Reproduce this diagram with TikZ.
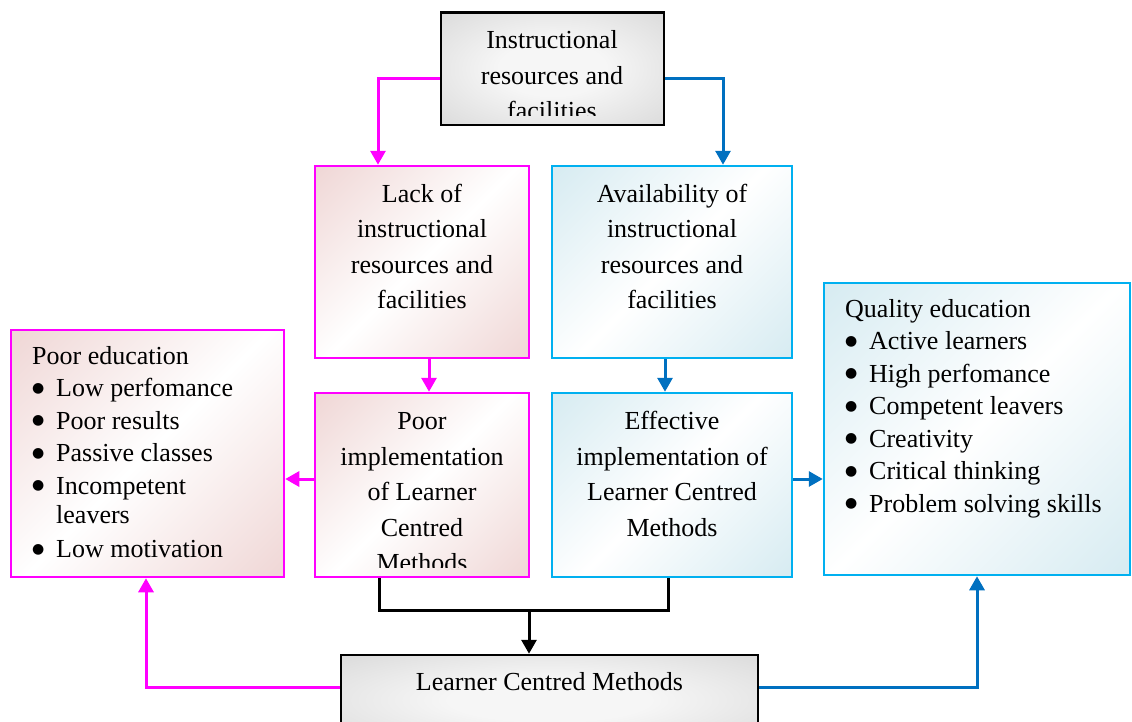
\documentclass[tikz,border=0pt]{standalone}
\usepackage{fontspec}
\setmainfont{Liberation Serif}
\newfontfamily\symf{DejaVu Sans}
\usetikzlibrary{arrows.meta,calc}
\definecolor{mag}{HTML}{FF00FF}
\definecolor{cyanb}{HTML}{00B0F0}
\definecolor{blu}{HTML}{0070C0}
\definecolor{pinkf}{HTML}{F0D8D7}
\definecolor{bluef}{HTML}{D8ECF2}
\definecolor{grayf}{HTML}{D6D6D6}
\definecolor{grayc}{HTML}{F6F6F6}
\pgfdeclareradialshading{grayrad}{\pgfpoint{0bp}{0bp}}{color(0bp)=(grayc); color(12bp)=(grayc); color(40bp)=(grayf); color(100bp)=(grayf)}
\pgfdeclareverticalshading{pinkdiag}{100bp}{color(0bp)=(pinkf); color(16bp)=(pinkf); color(50bp)=(white); color(84bp)=(pinkf); color(100bp)=(pinkf)}
\pgfdeclareverticalshading{bluediag}{100bp}{color(0bp)=(bluef); color(16bp)=(bluef); color(50bp)=(white); color(84bp)=(bluef); color(100bp)=(bluef)}
\newcommand{\bul}{\makebox[24pt][l]{\raisebox{4.5pt}{\symf\fontsize{14}{14}\selectfont ●}}}
\begin{document}
\begin{tikzpicture}[x=1pt,y=-1pt,
 pinkbox/.style={draw=mag, line width=2.5pt, rectangle, shading=pinkdiag, shading angle=45},
 bluebox/.style={draw=cyanb, line width=2.5pt, rectangle, shading=bluediag, shading angle=45},
 graybox/.style={draw=black, line width=2.5pt, rectangle, shading=grayrad},
 txt/.style={font=\fontsize{26}{35.5}\selectfont, align=center, inner sep=0pt, anchor=north},
 lst/.style={font=\fontsize{26}{32.5}\selectfont, align=left, inner sep=0pt, anchor=north west},
 conn/.style={line width=3pt, -{Triangle[length=14pt,width=15pt]}},
 blk/.style={line width=3pt, black}
]
\clip (0,0) rectangle (1132,721);
\fill[white] (0,0) rectangle (1132,721);

% boxes
\node[graybox, minimum width=223pt, minimum height=112.5pt] (top) at (552.5,68.75) {};
\node[pinkbox, minimum width=214pt, minimum height=192pt] (lack) at (422,262) {};
\node[bluebox, minimum width=240pt, minimum height=192pt] (avail) at (672,262) {};
\node[pinkbox, minimum width=214pt, minimum height=184pt] (poor) at (422,485) {};
\node[bluebox, minimum width=240pt, minimum height=184pt] (eff) at (672,485) {};
\node[pinkbox, minimum width=273pt, minimum height=247pt] (pooredu) at (147.5,453.5) {};
\node[bluebox, minimum width=306pt, minimum height=292pt] (quality) at (977,429) {};
\node[graybox, minimum width=417pt, minimum height=90pt] (lcm) at (549.5,700) {};

% texts
\begin{scope}
\clip (443,14) rectangle (662,115);
\node[txt] (toptxt) at (552,23.5) {\strut Instructional\\resources and\\facilities};
\end{scope}
\node[txt] (lacktxt) at (422,177) {\strut Lack of\\instructional\\resources and\\facilities};
\node[txt] (availtxt) at (672,177) {\strut Availability of\\instructional\\resources and\\facilities};
\begin{scope}
\clip (317,396) rectangle (527,567);
\node[txt] (poortxt) at (422,404.5) {\strut Poor\\implementation\\of Learner\\Centred\\Methods};
\end{scope}
\node[txt] (efftxt) at (672,404.5) {\strut Effective\\implementation of\\Learner Centred\\Methods};
\node[lst] (pooredutxt) at (32,341.25) {\strut Poor education\\
\bul Low perfomance\\
\bul Poor results\\
\bul Passive classes\\
\bul Incompetent\\[-3pt]
\makebox[24pt][l]{}leavers\\[1.5pt]
\bul Low motivation};
\node[lst] (qualitytxt) at (845,294.25) {\strut Quality education\\
\bul Active learners\\
\bul High perfomance\\
\bul Competent leavers\\
\bul Creativity\\
\bul Critical thinking\\
\bul Problem solving skills};
\node[txt] (lcmtxt) at (549.5,665.15) {\strut Learner Centred Methods};

% connectors
\draw[conn, mag] (top.west |- 0,78) -| (lack.north -| 378,0);
\draw[conn, blu] (top.east |- 0,78) -| (avail.north -| 723,0);
\draw[conn, mag] (lack.south -| 429,0) -- (poor.north -| 429,0);
\draw[conn, blu] (avail.south -| 665,0) -- (eff.north -| 665,0);
\draw[conn, mag] (poor.west |- 0,479) -- (pooredu.east |- 0,479);
\draw[conn, blu] (eff.east |- 0,479) -- (quality.west |- 0,479);
\coordinate (j) at (529,610);
\draw[blk] (poor.south -| 379,0) |- (j) -| (eff.south -| 668,0);
\draw[blk, conn] (j) -- (lcm.north -| j);
\draw[conn, mag] (lcm.west |- 0,687) -| (pooredu.south -| 146,0);
\draw[conn, blu] (lcm.east |- 0,687) -| (quality.south -| 977,0);
\end{tikzpicture}
\end{document}
